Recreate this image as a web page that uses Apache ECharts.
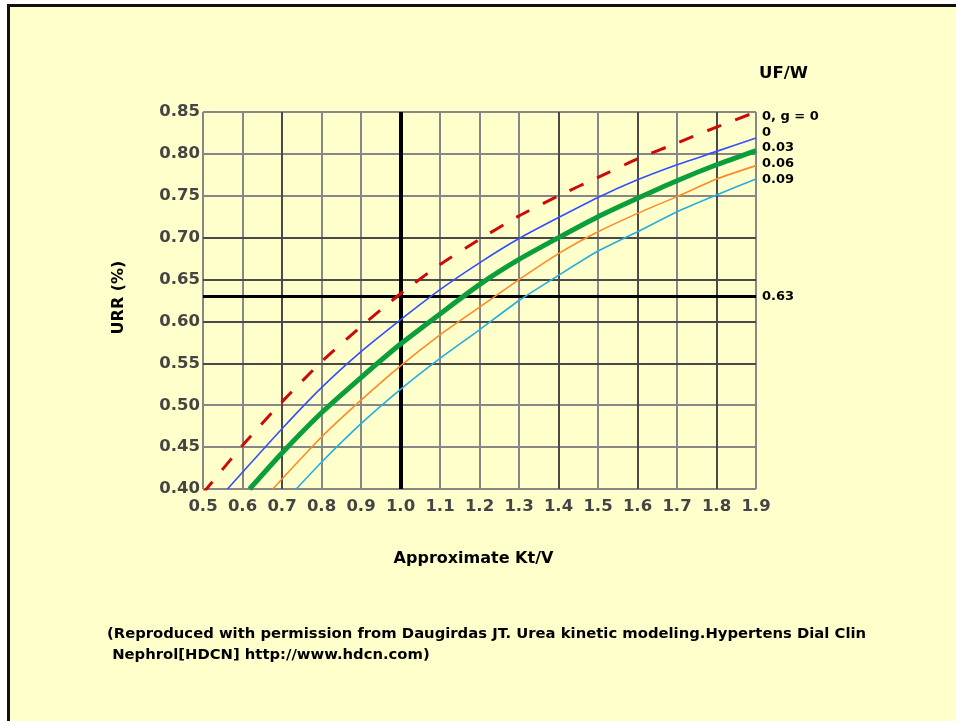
<!DOCTYPE html>
<html>
<head>
<meta charset="utf-8">
<script src="https://cdn.jsdelivr.net/npm/echarts@6/dist/echarts.min.js"></script>
<style>
  html, body { margin: 0; padding: 0; background: #ffffff; }
  #frame { position: absolute; left: 7px; top: 4px; width: 949px; height: 717px;
           box-sizing: border-box; border-left: 3px solid #111; border-top: 3px solid #111;
           background: #ffffcc; }
  #chart { position: absolute; left: 0; top: 0; width: 956px; height: 721px; }
</style>
</head>
<body>
<div id="frame"></div>
<div id="chart"></div>
<script>
// ---- data ----
const xTicks = [0.5, 0.6, 0.7, 0.8, 0.9, 1.0, 1.1, 1.2, 1.3, 1.4, 1.5, 1.6, 1.7, 1.8, 1.9];
const yTicks = [0.40, 0.45, 0.50, 0.55, 0.60, 0.65, 0.70, 0.75, 0.80, 0.85];
const darkXLines = [0.7, 1.4, 1.6, 1.8];
const darkYLines = [0.55, 0.60, 0.65, 0.70];
const refKtV = 1.0;
const refURR = 0.63;

// UF/W = 0, g = 0 (dashed red)
const ktG0  = [0.5, 0.6, 0.7, 0.8, 0.9, 1.0, 1.1, 1.2, 1.3, 1.4, 1.5, 1.6, 1.7, 1.8, 1.9];
const urrG0 = [0.395, 0.452, 0.504, 0.552, 0.594, 0.633, 0.668, 0.698, 0.726, 0.750, 0.772, 0.794, 0.813, 0.832, 0.850];
// UF/W = 0 (blue)
const ktUF0  = [0.562, 0.6, 0.7, 0.8, 0.9, 1.0, 1.1, 1.2, 1.3, 1.4, 1.5, 1.6, 1.7, 1.8, 1.9];
const urrUF0 = [0.400, 0.420, 0.472, 0.521, 0.564, 0.602, 0.638, 0.670, 0.699, 0.724, 0.748, 0.769, 0.787, 0.803, 0.819];
// UF/W = 0.03 (green, thick)
const ktUF03  = [0.618, 0.7, 0.8, 0.9, 1.0, 1.1, 1.2, 1.3, 1.4, 1.5, 1.6, 1.7, 1.8, 1.9];
const urrUF03 = [0.400, 0.443, 0.491, 0.533, 0.573, 0.609, 0.644, 0.674, 0.700, 0.725, 0.747, 0.768, 0.787, 0.804];
// UF/W = 0.06 (orange)
const ktUF06  = [0.677, 0.7, 0.8, 0.9, 1.0, 1.1, 1.2, 1.3, 1.4, 1.5, 1.6, 1.7, 1.8, 1.9];
const urrUF06 = [0.400, 0.412, 0.462, 0.506, 0.547, 0.584, 0.617, 0.650, 0.681, 0.707, 0.729, 0.749, 0.770, 0.786];
// UF/W = 0.09 (light blue)
const ktUF09  = [0.736, 0.8, 0.9, 1.0, 1.1, 1.2, 1.3, 1.4, 1.5, 1.6, 1.7, 1.8, 1.9];
const urrUF09 = [0.400, 0.432, 0.478, 0.519, 0.556, 0.590, 0.625, 0.655, 0.684, 0.707, 0.731, 0.751, 0.770];

const seriesLabels = ['0, g = 0', '0', '0.03', '0.06', '0.09'];
const legendTitle = 'UF/W';
const xAxisName = 'Approximate Kt/V';
const yAxisName = 'URR (%)';
const sourceNote = '(Reproduced with permission from Daugirdas JT. Urea kinetic modeling.Hypertens Dial Clin\n Nephrol[HDCN] http://www.hdcn.com)';

// ---- chart ----
const zip = (xs, ys) => xs.map((x, i) => [x, ys[i]]);
const FONT = 'DejaVu Sans';

const chart = echarts.init(document.getElementById('chart'), null, { renderer: 'canvas' });

function curve(name, xs, ys, color, width, type) {
  return {
    name: name, type: 'line', data: zip(xs, ys), showSymbol: false, symbol: 'none',
    smooth: 0.2, clip: true, silent: true, z: 5,
    lineStyle: { color: color, width: width, type: type || 'solid', cap: 'butt' }
  };
}

const labelYs = [117, 133, 148, 164, 180];
const graphics = [
  { type: 'text', left: 759, top: 65, style: { text: legendTitle, font: 'bold 16.5px "DejaVu Sans"', fill: '#000' } }
].concat(seriesLabels.map((t, i) => ({
  type: 'text', left: 762, top: labelYs[i] - 7,
  style: { text: t, font: 'bold 13px "DejaVu Sans"', fill: '#000' }
}))).concat([
  { type: 'text', left: 107, top: 624,
    style: { text: sourceNote, font: 'bold 14.8px "DejaVu Sans"', fill: '#000', lineHeight: 21 } }
]);

chart.setOption({
  backgroundColor: 'transparent',
  animation: false,
  grid: { left: 203, right: 200, top: 112, bottom: 232, containLabel: false },
  xAxis: {
    type: 'value', min: 0.5, max: 1.9, interval: 0.1,
    name: xAxisName, nameLocation: 'middle', nameGap: 62,
    nameTextStyle: { fontFamily: FONT, fontWeight: 'bold', fontSize: 16, color: '#000', padding: [0, 12, 0, 0] },
    axisLine: { show: false }, axisTick: { show: false },
    axisLabel: { formatter: v => v.toFixed(1), fontFamily: FONT, fontWeight: 'bold', fontSize: 16.5, color: '#444', margin: 9 },
    splitLine: { show: true, lineStyle: { color: '#878787', width: 2 } }
  },
  yAxis: {
    type: 'value', min: 0.4, max: 0.85, interval: 0.05,
    name: yAxisName, nameLocation: 'middle', nameGap: 76, nameRotate: 90,
    nameTextStyle: { fontFamily: FONT, fontWeight: 'bold', fontSize: 16, color: '#000', padding: [0, 0, 0, 6] },
    axisLine: { show: false }, axisTick: { show: false },
    axisLabel: { formatter: v => v.toFixed(2), fontFamily: FONT, fontWeight: 'bold', fontSize: 16.5, color: '#444', margin: 3 },
    splitLine: { show: true, lineStyle: { color: '#878787', width: 2 } }
  },
  graphic: graphics,
  series: [
    {
      name: 'grid-dark', type: 'line', data: [[0.5, 0.4]], symbol: 'none', silent: true, z: 1,
      lineStyle: { width: 0 },
      markLine: {
        silent: true, symbol: 'none', animation: false, label: { show: false },
        lineStyle: { color: '#4a4a4a', width: 2, type: 'solid' },
        data: darkXLines.map(v => ({ xAxis: v })).concat(darkYLines.map(v => ({ yAxis: v })))
      }
    },
    curve(seriesLabels[0], ktG0, urrG0, '#cc0a0a', 3, [15, 15]),
    curve(seriesLabels[1], ktUF0, urrUF0, '#3050ff', 1.6),
    curve(seriesLabels[2], ktUF03, urrUF03, '#0a9e3c', 5),
    curve(seriesLabels[3], ktUF06, urrUF06, '#ff8a25', 1.6),
    curve(seriesLabels[4], ktUF09, urrUF09, '#25aee0', 1.6),
    {
      name: 'reference', type: 'line', data: [[0.5, 0.4]], symbol: 'none', silent: true, z: 6,
      lineStyle: { width: 0 },
      markLine: {
        silent: true, symbol: 'none', animation: false,
        data: [
          { xAxis: refKtV, lineStyle: { color: '#000', width: 4, type: 'solid' }, label: { show: false } },
          { yAxis: refURR, lineStyle: { color: '#000', width: 3, type: 'solid' },
            label: { show: true, position: 'end', formatter: refURR.toFixed(2), distance: 6,
                     fontFamily: FONT, fontWeight: 'bold', fontSize: 13, color: '#000' } }
        ]
      }
    }
  ]
});
</script>
</body>
</html>
